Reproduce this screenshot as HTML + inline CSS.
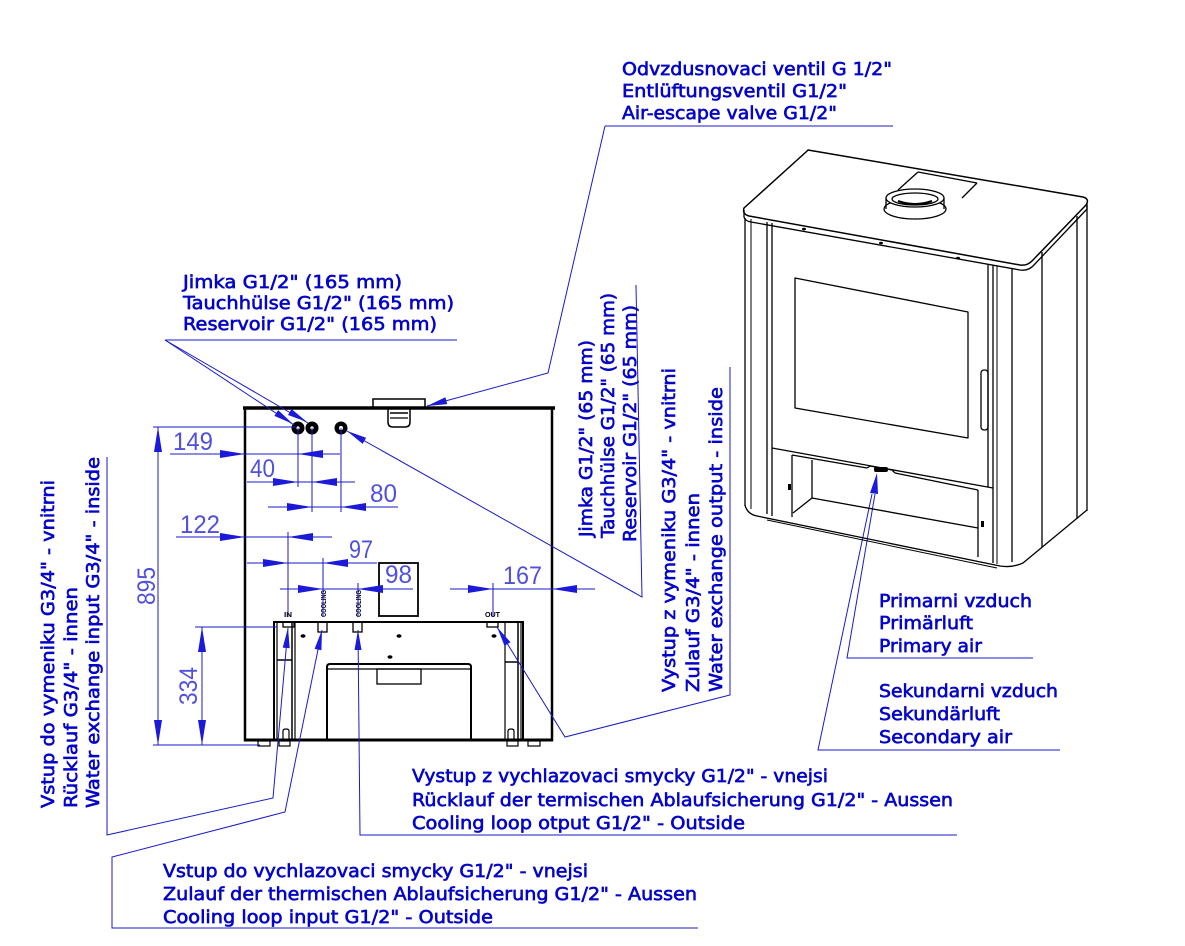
<!DOCTYPE html>
<html><head><meta charset="utf-8"><style>
html,body{margin:0;padding:0;background:#fff;}
svg{display:block;}
.t{font-family:"DejaVu Sans","Liberation Sans",sans-serif;font-size:18px;fill:#0505c8;stroke:#0505c8;stroke-width:0.65;}
.d{font-family:"Liberation Sans",sans-serif;font-size:25px;fill:#5050dc;}
.k{font-family:"Liberation Sans",sans-serif;font-size:7px;font-weight:bold;fill:#000;}
</style></head><body>
<svg width="1185" height="946" viewBox="0 0 1185 946" xmlns="http://www.w3.org/2000/svg">
<rect width="1185" height="946" fill="#fff"/>

<!-- ================= BACK VIEW ================= -->
<g stroke="#000" fill="none">
  <line x1="243" y1="408" x2="555" y2="408" stroke-width="3.5"/>
  <line x1="245" y1="408" x2="245" y2="741" stroke-width="2.5"/>
  <line x1="552" y1="408" x2="552" y2="741" stroke-width="2.5"/>
  <line x1="244" y1="740" x2="553" y2="740" stroke-width="3"/>
  <rect x="373" y="399" width="52" height="9" stroke-width="1.5"/>
  <path d="M388 408 V422 Q388 427 393 427 H405 Q410 427 410 422 V408" stroke-width="1.5"/>
  <line x1="390" y1="413" x2="408" y2="413" stroke-width="1.5"/>
  <line x1="390" y1="418" x2="408" y2="418" stroke-width="1.2"/>
  <rect x="274" y="622" width="249" height="118" stroke-width="2"/>
  <line x1="277" y1="622" x2="277" y2="740" stroke-width="1.2"/>
  <line x1="292" y1="622" x2="292" y2="740" stroke-width="1.5"/>
  <line x1="295" y1="622" x2="295" y2="740" stroke-width="1.2"/>
  <line x1="505" y1="622" x2="505" y2="740" stroke-width="1.2"/>
  <line x1="518" y1="622" x2="518" y2="740" stroke-width="1.5"/>
  <line x1="521" y1="622" x2="521" y2="740" stroke-width="1.2"/>
  <line x1="277" y1="660" x2="292" y2="660" stroke-width="1.5"/>
  <line x1="505" y1="662" x2="518" y2="662" stroke-width="1.5"/>
  <path d="M283 740 V731 Q283 729 286 729 Q289 729 289 731 V740" stroke-width="1.2"/>
  <path d="M508 740 V731 Q508 729 511 729 Q514 729 514 731 V740" stroke-width="1.2"/>
  <path d="M327 740 V667 Q327 664 330 664 H468 Q471 664 471 667 V740" stroke-width="2"/>
  <line x1="327" y1="669" x2="471" y2="669" stroke-width="1.2"/>
  <rect x="377" y="669" width="44" height="15" stroke-width="1.3"/>
  <rect x="283" y="622" width="11" height="5" stroke-width="1.3"/>
  <rect x="318" y="622" width="9" height="10" stroke-width="1.3"/>
  <rect x="353" y="622" width="9" height="10" stroke-width="1.3"/>
  <rect x="487" y="622" width="11" height="5" stroke-width="1.3"/>
  <rect x="258" y="741" width="12" height="5" stroke-width="1.2"/>
  <rect x="279" y="741" width="11" height="5" stroke-width="1.2"/>
  <rect x="507" y="741" width="11" height="5" stroke-width="1.2"/>
  <rect x="528" y="741" width="12" height="5" stroke-width="1.2"/>
  <rect x="379" y="563" width="39" height="53" stroke-width="1.8"/>
</g>
<g fill="#000">
  <ellipse cx="303" cy="636" rx="2.5" ry="1.8"/>
  <ellipse cx="399" cy="636" rx="2.5" ry="1.8"/>
  <ellipse cx="494" cy="636" rx="2.5" ry="1.8"/>
  <ellipse cx="390" cy="657" rx="2.5" ry="1.8"/>
  <rect x="300" y="621" width="5" height="2"/>
  <rect x="428" y="621" width="5" height="2"/>
  <rect x="366" y="621" width="5" height="2"/>
  <circle cx="298" cy="428" r="6.5"/>
  <circle cx="312" cy="428" r="6.5"/>
  <circle cx="341" cy="428" r="6.5"/>
</g>
<g fill="#fff">
  <circle cx="298" cy="428" r="1.6"/>
  <circle cx="312" cy="428" r="1.6"/>
  <circle cx="341" cy="428" r="2"/>
</g>
<text class="k" x="284" y="617" textLength="8" lengthAdjust="spacingAndGlyphs">IN</text>
<text class="k" x="485" y="617" textLength="15" lengthAdjust="spacingAndGlyphs">OUT</text>
<text class="k" transform="translate(326,617) rotate(-90)" textLength="27" lengthAdjust="spacingAndGlyphs">COOLING</text>
<text class="k" transform="translate(361,617) rotate(-90)" textLength="27" lengthAdjust="spacingAndGlyphs">COOLING</text>

<!-- ================= DIMENSIONS ================= -->
<g stroke="#1a1ac8" stroke-width="1" fill="none">
  <line x1="153" y1="427" x2="297" y2="427"/>
  <line x1="195" y1="627" x2="277" y2="627"/>
  <line x1="153" y1="745" x2="260" y2="745"/>
  <line x1="158" y1="427" x2="158" y2="745"/>
  <line x1="202" y1="627" x2="202" y2="745"/>
  <line x1="298" y1="428" x2="298" y2="487"/>
  <line x1="312" y1="428" x2="312" y2="512"/>
  <line x1="341" y1="428" x2="341" y2="512"/>
  <line x1="170" y1="454" x2="340" y2="454"/>
  <line x1="247" y1="482" x2="355" y2="482"/>
  <line x1="268" y1="507" x2="398" y2="507"/>
  <line x1="176" y1="537" x2="332" y2="537"/>
  <line x1="288" y1="532" x2="288" y2="617"/>
  <line x1="247" y1="563" x2="377" y2="563"/>
  <line x1="323" y1="558" x2="323" y2="617"/>
  <line x1="280" y1="589" x2="413" y2="589"/>
  <line x1="358" y1="583" x2="358" y2="617"/>
  <line x1="450" y1="589" x2="595" y2="589"/>
  <line x1="493" y1="583" x2="493" y2="617"/>
</g>
<g fill="#1a1ad8">
  <polygon points="158,427 154,452 162,452"/>
  <polygon points="158,745 154,720 162,720"/>
  <polygon points="202,627 198,652 206,652"/>
  <polygon points="202,745 198,720 206,720"/>
  <polygon points="245,454 220,450 220,458"/>
  <polygon points="298,454 323,450 323,458"/>
  <polygon points="298,482 273,478 273,486"/>
  <polygon points="312,482 337,478 337,486"/>
  <polygon points="312,507 287,503 287,511"/>
  <polygon points="341,507 366,503 366,511"/>
  <polygon points="245,537 220,533 220,541"/>
  <polygon points="288,537 313,533 313,541"/>
  <polygon points="288,563 263,559 263,567"/>
  <polygon points="323,563 348,559 348,567"/>
  <polygon points="323,589 298,585 298,593"/>
  <polygon points="358,589 383,585 383,593"/>
  <polygon points="493,589 468,585 468,593"/>
  <polygon points="552,589 577,585 577,593"/>
</g>
<text class="d" x="173" y="450" textLength="40" lengthAdjust="spacingAndGlyphs">149</text>
<text class="d" x="250" y="477" textLength="25" lengthAdjust="spacingAndGlyphs">40</text>
<text class="d" x="370" y="502" textLength="27" lengthAdjust="spacingAndGlyphs">80</text>
<text class="d" x="180" y="533" textLength="40" lengthAdjust="spacingAndGlyphs">122</text>
<text class="d" x="349" y="558" textLength="24" lengthAdjust="spacingAndGlyphs">97</text>
<text class="d" x="385" y="583" textLength="27" lengthAdjust="spacingAndGlyphs">98</text>
<text class="d" x="503" y="584" textLength="39" lengthAdjust="spacingAndGlyphs">167</text>
<text class="d" transform="translate(155,605) rotate(-90)" textLength="38" lengthAdjust="spacingAndGlyphs">895</text>
<text class="d" transform="translate(197,705) rotate(-90)" textLength="38" lengthAdjust="spacingAndGlyphs">334</text>

<!-- ================= LEADERS ================= -->
<g stroke="#1a1ac8" stroke-width="1" fill="none">
  <line x1="605" y1="126" x2="893" y2="126"/>
  <polyline points="605,126 548,373 427,406"/>
  <line x1="165" y1="340" x2="457" y2="340"/>
  <line x1="165" y1="340" x2="294" y2="425"/>
  <line x1="165" y1="340" x2="308" y2="423"/>
  <polyline points="636,285 642,597 347,431"/>
  <polyline points="497,627 565,737 730,695 730,367"/>
  <polyline points="288,628 273,798 107,835 107,457"/>
  <polyline points="322,630 285,812 112,857 112,928 698,928"/>
  <polyline points="358,630 360,835 957,835"/>
  <polyline points="875,494 847,658 1033,658"/>
  <polyline points="872,494 818,750 1060,750"/>
</g>
<g fill="#1a1ad8">
  <polygon points="427,406 445.4,397.3 447.2,404.1"/>
  <polygon points="293,424 274.4,415.9 278.2,410.1"/>
  <polygon points="307,422 288,415 291.5,409"/>
  <polygon points="347,431 366.1,437.8 362.7,443.85"/>
  <polygon points="497,627 510.5,642.2 504.5,645.8"/>
  <polygon points="288,628 289.7,648.2 282.7,647.6"/>
  <polygon points="322,630 321.4,650.3 314.6,648.9"/>
  <polygon points="358,630 354.5,650 361.5,650"/>
  <polygon points="877,473 878,494 870,493"/>
</g>

<!-- ================= FRONT PERSPECTIVE STOVE ================= -->
<g stroke="#000" fill="none" stroke-width="1.3" stroke-linejoin="round">
  <path d="M808 150 L1083 197 Q1090 199 1086 205 L1032 261 Q1027 266 1020 265 L749 216 Q742 214 744 208 L806 152 Z" stroke-width="1.5"/>
  <path d="M744 210 L744 217 Q745 221 751 222 L1020 270 Q1028 271 1033 266 L1087 209 L1087 203"/>
  <path d="M918 172 L977 183"/>
  <path d="M918 172 L898 190"/>
  <path d="M977 183 L962 198"/>
  <ellipse cx="915" cy="209" rx="31" ry="10"/>
  <path d="M886 198 L886 209 M944 198 L944 209"/>
  <ellipse cx="915" cy="198" rx="29" ry="9" fill="#fff"/>
  <ellipse cx="915" cy="199" rx="23" ry="6"/>
  <path d="M898 201 Q915 207 932 201" stroke-width="2"/>
  <line x1="745" y1="218" x2="745" y2="506"/>
  <line x1="751" y1="219" x2="751" y2="509" stroke-width="1"/>
  <line x1="767" y1="222" x2="767" y2="514"/>
  <line x1="772" y1="223" x2="772" y2="516"/>
  <line x1="988" y1="264" x2="988" y2="487"/>
  <line x1="993" y1="265" x2="993" y2="563"/>
  <line x1="997" y1="266" x2="997" y2="564" stroke-width="1"/>
  <line x1="1012" y1="268" x2="1012" y2="562"/>
  <line x1="1042" y1="252" x2="1042" y2="547"/>
  <line x1="1077" y1="216" x2="1077" y2="519"/>
  <line x1="1087" y1="205" x2="1087" y2="511"/>
  <path d="M745 505 Q747 514 757 516 L1000 566 Q1012 568 1023 563 L1087 510"/>
  <path d="M767 520 L997 568" stroke-width="1"/>
  <line x1="772" y1="448" x2="993" y2="488"/>
  <polygon points="795,278 968,312 968,438 795,408"/>
  <rect x="981" y="370" width="7" height="60" rx="3"/>
  <path d="M792 455 L867 468 M895 473 L978 490"/>
  <path d="M867 468 L870 466 L892 470 L895 473"/>
  <line x1="792" y1="455" x2="792" y2="517"/>
  <line x1="812" y1="460" x2="812" y2="498"/>
  <line x1="812" y1="498" x2="793" y2="513"/>
  <line x1="812" y1="498" x2="978" y2="528"/>
  <line x1="978" y1="490" x2="978" y2="557"/>
</g>
<g fill="#000">
  <ellipse cx="804" cy="229" rx="2" ry="1.3"/>
  <ellipse cx="881" cy="243" rx="2" ry="1.3"/>
  <ellipse cx="958" cy="258" rx="2" ry="1.3"/>
  <rect x="788" y="484" width="3" height="6"/>
  <rect x="981" y="521" width="3" height="6"/>
  <rect x="874" y="467" width="14" height="5" rx="2"/>
</g>

<!-- ================= LABELS ================= -->
<text class="t" x="622" y="75" textLength="270" lengthAdjust="spacingAndGlyphs">Odvzdusnovaci ventil G 1/2"</text>
<text class="t" x="622" y="97" textLength="225" lengthAdjust="spacingAndGlyphs">Entlüftungsventil G1/2"</text>
<text class="t" x="622" y="119" textLength="215" lengthAdjust="spacingAndGlyphs">Air-escape valve G1/2"</text>

<text class="t" x="183" y="288" textLength="219" lengthAdjust="spacingAndGlyphs">Jimka G1/2" (165 mm)</text>
<text class="t" x="183" y="309" textLength="271" lengthAdjust="spacingAndGlyphs">Tauchhülse G1/2" (165 mm)</text>
<text class="t" x="183" y="330" textLength="254" lengthAdjust="spacingAndGlyphs">Reservoir G1/2" (165 mm)</text>

<text class="t" transform="translate(592,537) rotate(-90)" textLength="197" lengthAdjust="spacingAndGlyphs">Jimka G1/2" (65 mm)</text>
<text class="t" transform="translate(614,538) rotate(-90)" textLength="245" lengthAdjust="spacingAndGlyphs">Tauchhülse G1/2" (65 mm)</text>
<text class="t" transform="translate(636,542) rotate(-90)" textLength="237" lengthAdjust="spacingAndGlyphs">Reservoir G1/2" (65 mm)</text>

<text class="t" transform="translate(675,692) rotate(-90)" textLength="324" lengthAdjust="spacingAndGlyphs">Vystup z vymeniku G3/4" - vnitrni</text>
<text class="t" transform="translate(699,692) rotate(-90)" textLength="199" lengthAdjust="spacingAndGlyphs">Zulauf G3/4" - innen</text>
<text class="t" transform="translate(722,692) rotate(-90)" textLength="305" lengthAdjust="spacingAndGlyphs">Water exchange output - inside</text>

<text class="t" transform="translate(54,808) rotate(-90)" textLength="328" lengthAdjust="spacingAndGlyphs">Vstup do vymeniku G3/4" - vnitrni</text>
<text class="t" transform="translate(77,808) rotate(-90)" textLength="221" lengthAdjust="spacingAndGlyphs">Rücklauf G3/4" - innen</text>
<text class="t" transform="translate(99,808) rotate(-90)" textLength="351" lengthAdjust="spacingAndGlyphs">Water exchange input G3/4" - inside</text>

<text class="t" x="879" y="607" textLength="153" lengthAdjust="spacingAndGlyphs">Primarni vzduch</text>
<text class="t" x="879" y="629" textLength="94" lengthAdjust="spacingAndGlyphs">Primärluft</text>
<text class="t" x="879" y="652" textLength="103" lengthAdjust="spacingAndGlyphs">Primary air</text>
<text class="t" x="879" y="697" textLength="179" lengthAdjust="spacingAndGlyphs">Sekundarni vzduch</text>
<text class="t" x="879" y="720" textLength="121" lengthAdjust="spacingAndGlyphs">Sekundärluft</text>
<text class="t" x="879" y="743" textLength="133" lengthAdjust="spacingAndGlyphs">Secondary air</text>

<text class="t" x="412" y="782" textLength="416" lengthAdjust="spacingAndGlyphs">Vystup z vychlazovaci smycky G1/2" - vnejsi</text>
<text class="t" x="412" y="806" textLength="541" lengthAdjust="spacingAndGlyphs">Rücklauf der termischen Ablaufsicherung G1/2" - Aussen</text>
<text class="t" x="412" y="829" textLength="333" lengthAdjust="spacingAndGlyphs">Cooling loop otput G1/2" - Outside</text>

<text class="t" x="163" y="877" textLength="425" lengthAdjust="spacingAndGlyphs">Vstup do vychlazovaci smycky G1/2" - vnejsi</text>
<text class="t" x="163" y="900" textLength="534" lengthAdjust="spacingAndGlyphs">Zulauf der thermischen Ablaufsicherung G1/2" - Aussen</text>
<text class="t" x="163" y="923" textLength="330" lengthAdjust="spacingAndGlyphs">Cooling loop input G1/2" - Outside</text>
</svg>
</body></html>
